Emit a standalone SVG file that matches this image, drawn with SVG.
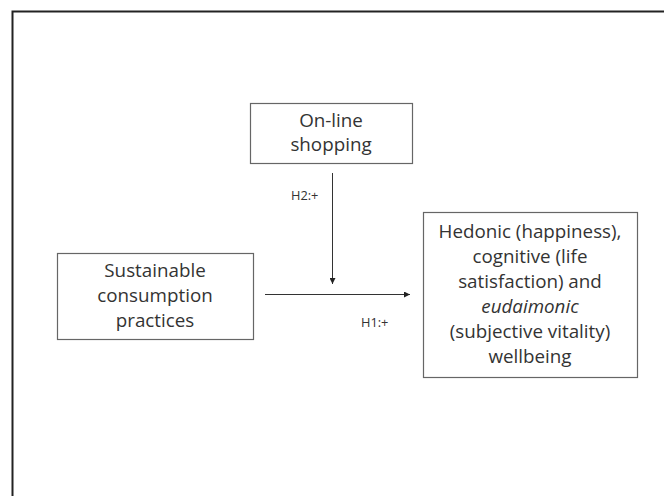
<svg xmlns="http://www.w3.org/2000/svg" width="664" height="496" viewBox="0 0 664 496">
<defs>
<marker id="arr" viewBox="0 0 8 8" refX="8" refY="4" markerWidth="6" markerHeight="6" orient="auto" markerUnits="userSpaceOnUse">
<path d="M0,0 L8,4 L0,8 z" fill="#222"/>
</marker>
<style>
.box{fill:#fff;stroke:#666;stroke-width:1.2}
.t{font-family:"Open Sans","Liberation Sans",sans-serif;font-size:18.8px;fill:#333;text-anchor:middle}
.s{font-family:"Open Sans","Liberation Sans",sans-serif;font-size:12.8px;fill:#333}
.c{stroke:#333;stroke-width:1;fill:none}
</style>
</defs>
<rect width="664" height="496" fill="#fff"/>
<path d="M12.5,496 L12.5,11.5 L664,11.5" fill="none" stroke="#222" stroke-width="2"/>
<g id="online">
<rect class="box" x="250.5" y="103.5" width="162" height="60"/>
<text class="t" x="331" y="127">On-line</text>
<text class="t" x="331" y="151">shopping</text>
</g>
<g id="sustainable">
<rect class="box" x="57.5" y="253.5" width="196" height="86"/>
<text class="t" x="155" y="277">Sustainable</text>
<text class="t" x="155" y="302">consumption</text>
<text class="t" x="155" y="327">practices</text>
</g>
<g id="wellbeing">
<rect class="box" x="423.5" y="212.5" width="214" height="165"/>
<text class="t" x="530" y="238">Hedonic (happiness),</text>
<text class="t" x="530" y="263">cognitive (life</text>
<text class="t" x="530" y="288">satisfaction) and</text>
<text class="t" x="530" y="313" font-style="italic">eudaimonic</text>
<text class="t" x="530" y="338">(subjective vitality)</text>
<text class="t" x="530" y="363">wellbeing</text>
</g>
<g id="connectors">
<line class="c" x1="332.5" y1="173" x2="332.5" y2="284" marker-end="url(#arr)"/>
<line class="c" x1="265" y1="294.5" x2="410" y2="294.5" marker-end="url(#arr)"/>
<text class="s" x="291" y="200">H2:+</text>
<text class="s" x="361" y="327">H1:+</text>
</g>
</svg>
